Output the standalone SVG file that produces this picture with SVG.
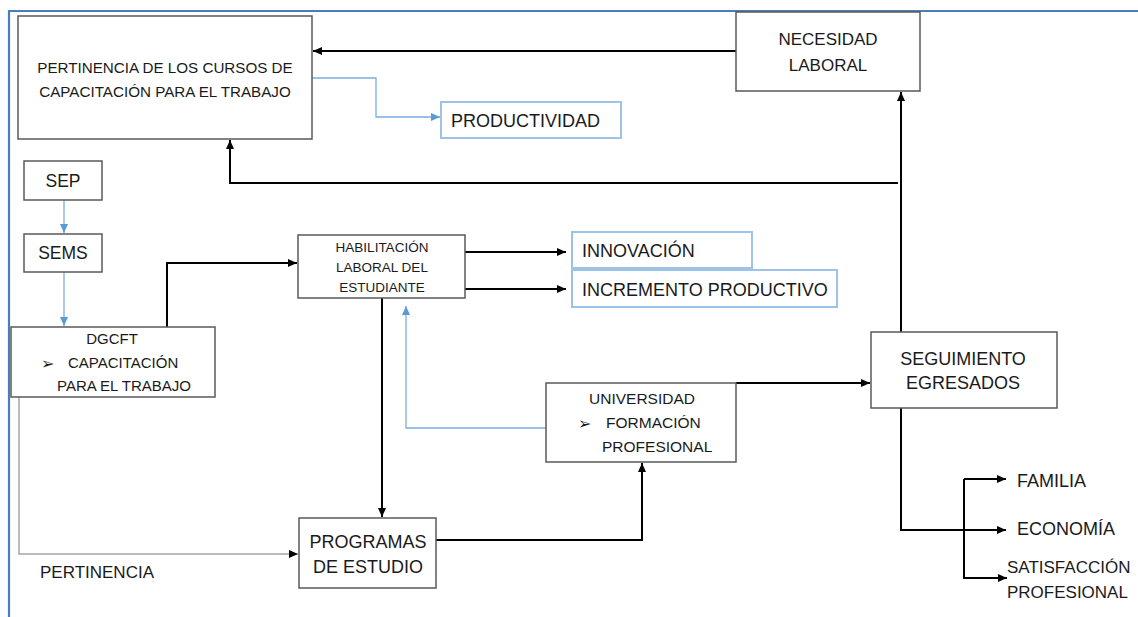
<svg xmlns="http://www.w3.org/2000/svg" width="1138" height="617" viewBox="0 0 1138 617">
<style>
text{font-family:"Liberation Sans",Arial,sans-serif;fill:#1a1a1a}
.box{fill:#fff;stroke:#595959;stroke-width:1.5}
.bbox{fill:#fff;stroke:#9dc3e6;stroke-width:2}
.k{fill:none;stroke:#000;stroke-width:2;marker-end:url(#ak)}
.b{fill:none;stroke:#7aaee0;stroke-width:1.3;marker-end:url(#ab)}
.g{fill:none;stroke:#a6a6a6;stroke-width:1.5;marker-end:url(#ag)}
.c{text-anchor:middle}
.bul{font-family:"DejaVu Sans",sans-serif;font-size:16px}
</style>
<defs>
<marker id="ak" markerUnits="userSpaceOnUse" markerWidth="9" markerHeight="8" refX="9" refY="4" orient="auto"><path d="M0,0 L9,4 L0,8 Z" fill="#000"/></marker>
<marker id="ab" markerUnits="userSpaceOnUse" markerWidth="9" markerHeight="8" refX="9" refY="4" orient="auto"><path d="M0,0 L9,4 L0,8 Z" fill="#5b9bd5"/></marker>
<marker id="ag" markerUnits="userSpaceOnUse" markerWidth="9" markerHeight="8" refX="9" refY="4" orient="auto"><path d="M0,0 L9,4 L0,8 Z" fill="#000"/></marker>
</defs>
<rect width="1138" height="617" fill="#fff"/>
<path d="M9,617 V11 H1138" fill="none" stroke="#4a7ebb" stroke-width="2.2"/>

<g id="connectors">
<path class="k" d="M736,51 H313"/>
<path class="b" d="M312,78 H376 V117 H440"/>
<path class="k" d="M898,183 H230 V140"/>
<path class="k" d="M901,332 V92"/>
<path class="b" d="M64,200 V233"/>
<path class="b" d="M64,272 V326"/>
<path class="k" d="M167,327 V263 H297"/>
<path class="k" d="M465,252 H566"/>
<path class="k" d="M465,289 H566"/>
<path class="k" d="M382,298 V517"/>
<path class="b" d="M553,428 H406 V306"/>
<path class="k" d="M736,383 H870"/>
<path class="g" d="M19,397 V554 H298"/>
<path class="k" d="M436,540 H642 V463"/>
<path class="k" d="M901,408 V530 H1006"/>
<path class="k" d="M964,479 H1006"/>
<path class="k" d="M964,479 V578 H1007"/>
</g>

<g id="n-pertinencia-cursos">
<rect class="box" x="18" y="16" width="294" height="123"/>
<text class="c" x="165" y="73" font-size="15.2">PERTINENCIA DE LOS CURSOS DE</text>
<text class="c" x="165" y="97" font-size="15.2">CAPACITACIÓN PARA EL TRABAJO</text>
</g>
<g id="n-necesidad">
<rect class="box" x="736" y="12" width="184" height="79"/>
<text class="c" x="828" y="45" font-size="17">NECESIDAD</text>
<text class="c" x="828" y="71" font-size="17">LABORAL</text>
</g>
<g id="n-productividad">
<rect class="bbox" x="441" y="102" width="180" height="36"/>
<text x="451" y="127" font-size="18">PRODUCTIVIDAD</text>
</g>
<g id="n-sep">
<rect class="box" x="24" y="161" width="78" height="39"/>
<text class="c" x="63" y="187" font-size="17.5">SEP</text>
</g>
<g id="n-sems">
<rect class="box" x="24" y="234" width="78" height="38"/>
<text class="c" x="63" y="259" font-size="17.5">SEMS</text>
</g>
<g id="n-dgcft">
<rect class="box" x="11" y="327" width="204" height="70"/>
<text class="c" x="112" y="344" font-size="15">DGCFT</text>
<text class="bul" x="41" y="369">➢</text>
<text x="68" y="368" font-size="15">CAPACITACIÓN</text>
<text x="57" y="391" font-size="15">PARA EL TRABAJO</text>
</g>
<g id="n-habilitacion">
<rect class="box" x="298" y="235" width="167" height="63"/>
<text class="c" x="382" y="252" font-size="13.5">HABILITACIÓN</text>
<text class="c" x="382" y="272" font-size="13.5">LABORAL DEL</text>
<text class="c" x="382" y="292" font-size="13.5">ESTUDIANTE</text>
</g>
<g id="n-innovacion">
<rect class="bbox" x="572" y="232" width="180" height="36"/>
<text x="582" y="257" font-size="18">INNOVACIÓN</text>
</g>
<g id="n-incremento">
<rect class="bbox" x="572" y="270" width="265" height="37"/>
<text x="582" y="296" font-size="18">INCREMENTO PRODUCTIVO</text>
</g>
<g id="n-universidad">
<rect class="box" x="546" y="383" width="190" height="79"/>
<text class="c" x="642" y="404" font-size="15.5">UNIVERSIDAD</text>
<text class="bul" x="578" y="429">➢</text>
<text x="606" y="428" font-size="15.5">FORMACIÓN</text>
<text x="602" y="452" font-size="15.5">PROFESIONAL</text>
</g>
<g id="n-seguimiento">
<rect class="box" x="871" y="332" width="186" height="76"/>
<text class="c" x="963" y="365" font-size="18">SEGUIMIENTO</text>
<text class="c" x="963" y="389" font-size="18">EGRESADOS</text>
</g>
<g id="n-programas">
<rect class="box" x="299" y="518" width="137" height="70"/>
<text class="c" x="368" y="548" font-size="18">PROGRAMAS</text>
<text class="c" x="368" y="573" font-size="18">DE ESTUDIO</text>
</g>
<g id="n-familia"><text x="1017" y="487" font-size="18">FAMILIA</text></g>
<g id="n-economia"><text x="1017" y="535" font-size="18">ECONOMÍA</text></g>
<g id="n-satisfaccion">
<text x="1007" y="573" font-size="17">SATISFACCIÓN</text>
<text x="1007" y="598" font-size="17">PROFESIONAL</text>
</g>
<g id="n-pertinencia-label"><text x="40" y="578" font-size="17">PERTINENCIA</text></g>
</svg>
